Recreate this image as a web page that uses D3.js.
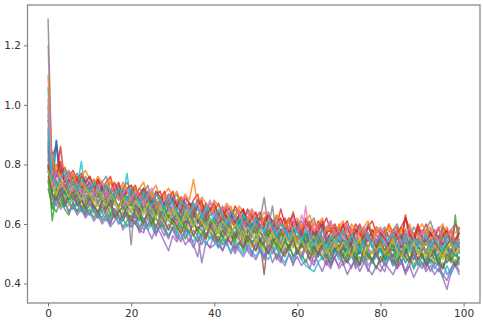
<!DOCTYPE html>
<html lang="en">
<head>
    <meta charset="UTF-8">
    <title>Loss curves</title>
    <script src="https://d3js.org/d3.v7.min.js"></script>
    <style>
        body { margin: 0; padding: 0; background: #ffffff; }
        svg { display: block; }
        .tick text { font-family: "DejaVu Sans", sans-serif; font-size: 10.5px; fill: #333; }
    </style>
</head>
<body>
    <svg width="483" height="327"></svg>
    <script>
        // tab10 colour cycle, one colour per run
        const colors = ["#1f77b4", "#ff7f0e", "#2ca02c", "#d62728", "#9467bd",
                        "#8c564b", "#e377c2", "#7f7f7f", "#bcbd22", "#17becf"];
        const xTicks = [0, 20, 40, 60, 80, 100];
        const yTicks = [0.4, 0.6, 0.8, 1.0, 1.2];

        // one array per run, epoch 0..99
        const run0 = [.92,.79,.88,.77,.74,.75,.72,.76,.73,.71, .72,.74,.70,.71,.73,.69,.70,.68,.71,.69, .67,.70,.69,.66,.68,.67,.65,.68,.66,.67, .64,.66,.67,.63,.65,.62,.66,.64,.61,.63, .64,.61,.60,.63,.62,.59,.61,.63,.58,.60, .61,.58,.59,.57,.60,.58,.56,.59,.57,.58, .55,.58,.56,.57,.54,.58,.55,.56,.53,.57, .55,.53,.56,.57,.54,.52,.55,.56,.53,.55, .54,.56,.52,.55,.57,.53,.54,.51,.56,.54, .53,.55,.52,.54,.56,.51,.53,.55,.52,.54];
        const run1 = [.88,.82,.77,.79,.75,.77,.74,.76,.73,.75, .74,.71,.73,.72,.70,.74,.71,.69,.72,.70, .71,.69,.68,.71,.67,.70,.68,.69,.66,.68, .67,.65,.68,.66,.64,.67,.65,.63,.66,.64, .65,.63,.62,.64,.66,.61,.63,.62,.60,.64, .61,.62,.59,.63,.60,.58,.61,.59,.62,.58, .60,.57,.59,.61,.56,.58,.60,.57,.59,.56, .58,.60,.55,.57,.59,.56,.58,.55,.57,.59, .56,.54,.58,.57,.55,.59,.56,.54,.57,.55, .58,.55,.57,.54,.56,.58,.55,.57,.54,.56];
        const run2 = [.80,.61,.70,.66,.69,.67,.65,.68,.66,.64, .67,.65,.63,.66,.64,.62,.65,.63,.61,.64, .62,.60,.63,.61,.64,.60,.62,.59,.61,.63, .60,.58,.61,.59,.57,.60,.58,.56,.59,.57, .55,.58,.56,.54,.57,.55,.58,.53,.56,.54, .55,.52,.54,.57,.53,.55,.51,.54,.52,.55, .50,.53,.51,.54,.52,.49,.53,.51,.48,.52, .50,.53,.49,.51,.47,.52,.50,.48,.51,.49, .52,.48,.50,.47,.51,.49,.53,.48,.50,.46, .49,.51,.47,.50,.48,.52,.49,.47,.63,.50];
        const run3 = [.95,.83,.86,.77,.79,.76,.78,.75,.77,.74, .76,.73,.75,.72,.74,.76,.71,.73,.70,.72, .71,.73,.69,.72,.70,.68,.71,.69,.67,.70, .68,.66,.69,.67,.65,.68,.70,.64,.67,.65, .64,.67,.63,.65,.62,.66,.64,.61,.65,.63, .62,.64,.60,.63,.61,.59,.65,.60,.62,.59, .61,.58,.62,.60,.57,.61,.59,.62,.58,.60, .57,.59,.61,.56,.60,.58,.55,.59,.61,.57, .58,.56,.60,.57,.59,.55,.62,.58,.56,.59, .57,.60,.56,.58,.55,.59,.57,.54,.60,.58];
        const run4 = [1.0,.70,.68,.72,.66,.69,.67,.64,.68,.65, .63,.66,.64,.62,.65,.61,.63,.60,.64,.62, .59,.61,.63,.58,.60,.62,.57,.59,.56,.60, .58,.55,.59,.57,.54,.58,.56,.53,.57,.55, .56,.52,.55,.53,.57,.51,.54,.52,.55,.50, .53,.51,.49,.54,.50,.52,.48,.51,.53,.49, .51,.48,.52,.50,.47,.51,.49,.46,.50,.48, .46,.50,.48,.45,.49,.47,.51,.46,.48,.45, .49,.46,.48,.50,.45,.47,.44,.48,.46,.49, .47,.45,.48,.46,.44,.47,.43,.45,.48,.46];
        const run5 = [.85,.74,.72,.75,.71,.73,.70,.72,.69,.71, .70,.68,.71,.67,.69,.66,.68,.70,.65,.67, .66,.68,.64,.67,.65,.63,.66,.64,.62,.65, .63,.61,.64,.62,.60,.63,.61,.59,.62,.60, .61,.58,.60,.62,.57,.59,.61,.56,.58,.60, .57,.55,.43,.56,.59,.54,.57,.55,.58,.56, .54,.57,.53,.55,.52,.56,.54,.51,.55,.53, .52,.55,.51,.54,.53,.50,.54,.52,.55,.51, .53,.51,.54,.52,.50,.53,.55,.51,.52,.50, .52,.54,.50,.53,.51,.49,.53,.51,.54,.52];
        const run6 = [1.20,.77,.74,.72,.75,.71,.73,.70,.72,.69, .71,.69,.72,.68,.70,.67,.69,.71,.66,.68, .67,.69,.65,.68,.70,.66,.64,.67,.65,.68, .66,.63,.65,.67,.62,.64,.66,.61,.63,.65, .62,.60,.63,.61,.64,.59,.62,.60,.52,.61, .63,.59,.57,.60,.58,.61,.56,.59,.57,.55, .59,.56,.58,.55,.57,.60,.54,.57,.55,.58, .54,.57,.55,.59,.53,.56,.54,.52,.56,.54, .57,.53,.55,.58,.52,.56,.54,.57,.53,.55, .52,.56,.54,.51,.55,.53,.57,.54,.52,.55];
        const run7 = [1.29,.73,.77,.74,.72,.75,.71,.73,.70,.72, .71,.73,.69,.72,.70,.68,.71,.69,.72,.67, .53,.69,.67,.70,.66,.68,.65,.67,.69,.64, .66,.68,.64,.67,.65,.63,.66,.64,.62,.65, .63,.61,.64,.62,.60,.63,.61,.59,.62,.60, .58,.61,.69,.59,.57,.60,.58,.56,.59,.57, .60,.57,.55,.59,.56,.58,.54,.57,.55,.58, .56,.58,.54,.57,.55,.53,.57,.55,.58,.54, .55,.57,.53,.56,.58,.54,.56,.53,.55,.57, .54,.56,.58,.53,.55,.57,.54,.56,.53,.59];
        const run8 = [.83,.68,.73,.70,.72,.69,.71,.68,.70,.67, .69,.66,.68,.70,.65,.67,.64,.66,.68,.63, .65,.67,.63,.66,.64,.62,.65,.63,.61,.64, .62,.60,.63,.61,.64,.59,.62,.60,.58,.61, .59,.62,.57,.60,.58,.56,.59,.57,.55,.58, .56,.58,.54,.57,.55,.53,.56,.54,.57,.52, .55,.53,.56,.51,.54,.52,.55,.53,.50,.54, .52,.50,.53,.55,.51,.53,.49,.52,.54,.50, .51,.53,.49,.52,.50,.54,.51,.48,.52,.50, .53,.49,.51,.50,.52,.48,.51,.53,.49,.51];
        const run9 = [1.06,.72,.70,.73,.69,.71,.68,.72,.81,.70, .68,.70,.67,.69,.66,.71,.68,.65,.69,.77, .67,.65,.68,.64,.66,.63,.67,.65,.62,.66, .64,.62,.65,.63,.60,.64,.61,.63,.59,.62, .60,.63,.58,.61,.59,.57,.62,.58,.60,.56, .59,.57,.55,.58,.56,.60,.54,.57,.55,.53, .56,.54,.57,.52,.55,.53,.56,.51,.54,.52, .55,.51,.53,.56,.52,.50,.54,.52,.55,.51, .53,.50,.54,.52,.49,.53,.51,.55,.50,.52, .51,.54,.50,.52,.49,.53,.51,.48,.52,.50];
        const run10 = [.78,.70,.88,.69,.71,.68,.70,.67,.69,.66, .68,.65,.67,.64,.66,.68,.63,.65,.62,.66, .64,.62,.65,.61,.63,.60,.64,.62,.59,.63, .61,.59,.62,.60,.57,.61,.58,.60,.56,.59, .57,.60,.55,.58,.56,.54,.59,.55,.57,.53, .56,.54,.57,.52,.55,.53,.51,.55,.52,.54, .51,.54,.52,.50,.53,.49,.52,.54,.50,.52, .49,.52,.50,.53,.48,.51,.49,.52,.47,.50, .52,.48,.51,.49,.53,.47,.50,.52,.48,.51, .49,.47,.51,.48,.50,.52,.47,.49,.51,.48];
        const run11 = [.90,.78,.80,.76,.79,.75,.77,.74,.76,.78, .75,.73,.76,.74,.72,.75,.73,.71,.74,.72, .73,.70,.72,.74,.69,.71,.73,.68,.70,.72, .69,.71,.67,.70,.68,.75,.66,.69,.67,.65, .68,.66,.64,.67,.65,.63,.66,.64,.62,.65, .63,.61,.64,.62,.60,.63,.61,.59,.62,.60, .62,.59,.61,.63,.58,.60,.62,.57,.60,.58, .59,.61,.57,.60,.58,.56,.59,.61,.57,.59, .58,.56,.60,.57,.59,.55,.58,.60,.56,.58, .60,.57,.59,.56,.58,.60,.55,.58,.57,.59];
        const run12 = [.72,.66,.64,.68,.65,.63,.67,.64,.66,.63, .65,.62,.64,.61,.63,.60,.64,.62,.59,.61, .63,.60,.58,.62,.59,.61,.57,.60,.58,.56, .59,.57,.60,.55,.58,.56,.54,.57,.55,.58, .54,.56,.53,.55,.57,.52,.54,.51,.55,.53, .51,.54,.52,.50,.53,.48,.52,.50,.53,.49, .52,.50,.47,.51,.49,.52,.48,.50,.46,.49, .51,.47,.49,.52,.46,.49,.47,.50,.48,.45, .49,.47,.50,.46,.48,.51,.47,.49,.45,.48, .50,.46,.48,.47,.49,.45,.48,.50,.46,.47];
        const run13 = [.87,.79,.76,.86,.74,.77,.73,.75,.72,.74, .76,.72,.74,.71,.73,.70,.72,.74,.69,.71, .70,.72,.68,.71,.69,.67,.70,.68,.71,.66, .68,.66,.69,.65,.67,.64,.68,.66,.63,.65, .66,.63,.65,.62,.64,.60,.63,.65,.61,.63, .60,.62,.59,.63,.61,.58,.60,.62,.57,.61, .59,.57,.60,.58,.56,.59,.61,.57,.58,.55, .58,.56,.59,.55,.57,.60,.56,.54,.58,.56, .55,.58,.56,.54,.57,.59,.62,.56,.55,.58, .56,.54,.57,.55,.59,.53,.56,.58,.54,.57];
        const run14 = [.82,.66,.69,.65,.67,.64,.66,.63,.65,.62, .64,.61,.63,.60,.62,.59,.61,.63,.58,.60, .59,.61,.57,.60,.58,.55,.59,.57,.54,.51, .56,.54,.57,.53,.55,.52,.56,.47,.54,.52, .53,.55,.51,.54,.50,.53,.51,.49,.52,.50, .48,.51,.49,.52,.47,.50,.48,.46,.50,.47, .49,.46,.48,.45,.50,.47,.44,.48,.46,.49, .45,.47,.43,.46,.48,.44,.47,.45,.43,.46, .44,.47,.45,.43,.46,.48,.44,.46,.42,.45, .47,.44,.46,.43,.45,.42,.38,.44,.46,.43];
        const run15 = [.76,.72,.74,.71,.73,.70,.72,.69,.71,.73, .70,.68,.71,.69,.67,.70,.68,.66,.69,.67, .68,.66,.64,.67,.65,.68,.63,.66,.64,.62, .65,.63,.61,.64,.62,.65,.60,.63,.61,.59, .62,.60,.63,.58,.61,.59,.57,.60,.62,.58, .57,.60,.58,.56,.59,.55,.58,.56,.54,.57, .55,.58,.53,.56,.54,.57,.52,.55,.53,.56, .54,.52,.55,.53,.51,.54,.56,.52,.54,.53, .55,.51,.54,.52,.56,.53,.50,.54,.52,.55, .53,.51,.54,.56,.52,.50,.53,.55,.51,.54];
        const run16 = [.93,.75,.71,.73,.70,.72,.69,.71,.68,.70, .67,.69,.66,.68,.70,.65,.67,.64,.66,.68, .64,.66,.63,.65,.62,.64,.66,.61,.63,.65, .62,.60,.63,.61,.59,.62,.58,.61,.59,.57, .60,.58,.61,.57,.59,.56,.58,.60,.55,.57, .59,.55,.57,.54,.56,.58,.53,.55,.57,.52, .54,.56,.66,.55,.53,.51,.54,.56,.52,.54, .51,.53,.55,.50,.53,.51,.54,.52,.50,.53, .52,.55,.50,.53,.51,.54,.49,.52,.54,.50, .53,.51,.49,.53,.55,.50,.52,.49,.53,.51];
        const run17 = [.89,.80,.77,.79,.76,.78,.75,.77,.74,.76, .73,.75,.72,.74,.76,.71,.73,.70,.72,.74, .71,.69,.72,.70,.73,.68,.71,.69,.67,.70, .68,.70,.66,.69,.67,.65,.68,.66,.64,.67, .65,.63,.66,.64,.62,.65,.63,.61,.64,.62, .60,.63,.61,.64,.59,.62,.60,.58,.61,.63, .59,.61,.58,.60,.62,.57,.60,.58,.61,.56, .59,.57,.60,.58,.55,.59,.57,.60,.56,.58, .57,.59,.55,.58,.60,.56,.58,.55,.59,.57, .56,.58,.61,.57,.55,.59,.56,.58,.60,.57];
        const run18 = [.74,.68,.71,.67,.70,.66,.69,.67,.65,.68, .66,.64,.67,.65,.63,.66,.64,.62,.65,.63, .61,.64,.62,.60,.63,.61,.59,.62,.60,.58, .61,.59,.57,.60,.58,.56,.59,.57,.55,.58, .56,.59,.54,.57,.55,.53,.56,.54,.57,.52, .55,.53,.51,.54,.52,.55,.50,.53,.51,.54, .52,.50,.53,.51,.49,.52,.50,.48,.51,.53, .50,.48,.51,.49,.52,.47,.50,.48,.51,.49, .48,.51,.49,.52,.47,.50,.48,.51,.46,.49, .51,.48,.50,.47,.49,.52,.48,.50,.47,.49];
        const run19 = [.97,.70,.67,.69,.66,.68,.65,.67,.64,.66, .63,.65,.62,.64,.61,.63,.65,.60,.62,.59, .61,.63,.59,.62,.58,.60,.57,.61,.59,.56, .59,.57,.55,.58,.56,.54,.57,.55,.53,.56, .54,.52,.55,.53,.51,.54,.52,.50,.53,.51, .49,.52,.50,.48,.51,.53,.49,.47,.50,.48, .51,.48,.46,.45,.44,.47,.49,.50,.48,.51, .48,.50,.47,.49,.51,.46,.48,.50,.47,.49, .51,.47,.49,.46,.48,.50,.47,.49,.45,.48, .46,.49,.47,.45,.48,.42,.46,.43,.47,.49];
        const run20 = [.86,.75,.78,.73,.70,.74,.76,.71,.69,.72, .74,.70,.69,.73,.68,.66,.71,.72,.67,.69, .70,.66,.65,.69,.71,.64,.67,.68,.63,.66, .69,.64,.62,.65,.67,.66,.61,.63,.66,.60, .62,.64,.59,.58,.63,.61,.60,.64,.57,.59, .62,.57,.56,.60,.61,.55,.58,.59,.54,.57, .60,.55,.54,.58,.57,.53,.59,.55,.52,.56, .57,.54,.51,.55,.58,.53,.52,.56,.54,.50, .55,.57,.52,.51,.55,.56,.50,.53,.57,.52, .51,.55,.54,.50,.53,.57,.52,.50,.55,.53];
        const run21 = [1.10,.76,.80,.75,.72,.73,.77,.71,.74,.72, .70,.75,.73,.69,.72,.74,.70,.68,.73,.71, .67,.72,.70,.66,.69,.71,.65,.68,.70,.66, .64,.68,.69,.63,.66,.65,.62,.67,.64,.63, .66,.61,.63,.64,.59,.62,.65,.60,.61,.63, .58,.61,.62,.57,.60,.63,.56,.59,.61,.57, .55,.60,.58,.56,.61,.57,.54,.59,.58,.55, .60,.56,.54,.58,.57,.53,.59,.56,.55,.58, .54,.57,.59,.53,.56,.58,.55,.52,.57,.56, .53,.58,.55,.56,.52,.57,.59,.54,.55,.53];
        const run22 = [.75,.65,.72,.69,.66,.71,.68,.70,.65,.67, .70,.66,.64,.68,.67,.63,.69,.65,.62,.66, .67,.63,.61,.66,.64,.60,.65,.63,.66,.61, .60,.64,.62,.58,.63,.61,.57,.62,.60,.59, .61,.57,.56,.60,.59,.55,.61,.58,.54,.57, .59,.55,.53,.58,.56,.52,.57,.55,.51,.56, .54,.52,.57,.53,.50,.55,.54,.49,.53,.56, .51,.49,.54,.52,.48,.53,.55,.50,.47,.52, .54,.49,.51,.53,.47,.50,.52,.48,.51,.54, .49,.47,.52,.50,.46,.51,.53,.48,.50,.47];
        const run23 = [.79,.74,.76,.81,.72,.75,.73,.71,.76,.74, .72,.70,.75,.73,.69,.71,.74,.70,.68,.72, .73,.68,.70,.72,.67,.65,.70,.71,.66,.68, .71,.66,.64,.69,.67,.63,.66,.68,.62,.65, .67,.63,.61,.66,.64,.60,.63,.65,.59,.62, .64,.59,.61,.63,.58,.60,.62,.57,.59,.64, .58,.56,.61,.59,.55,.58,.60,.54,.57,.59, .56,.60,.55,.53,.58,.57,.54,.59,.56,.52, .57,.55,.53,.58,.56,.52,.63,.57,.54,.60, .55,.53,.57,.54,.51,.56,.58,.53,.55,.57];
        const run24 = [.88,.69,.66,.70,.68,.64,.67,.69,.65,.63, .67,.64,.62,.66,.63,.60,.65,.62,.61,.64, .60,.63,.58,.57,.62,.59,.56,.61,.58,.55, .59,.56,.54,.58,.57,.53,.49,.56,.54,.52, .57,.53,.51,.55,.54,.50,.53,.56,.51,.49, .54,.51,.48,.53,.52,.49,.47,.52,.50,.46, .51,.49,.53,.48,.46,.50,.52,.47,.45,.49, .51,.46,.48,.50,.45,.47,.49,.44,.48,.50, .46,.44,.49,.47,.45,.48,.43,.46,.50,.47, .45,.48,.44,.47,.46,.43,.41,.45,.47,.44];
        const run25 = [.80,.70,.68,.72,.67,.69,.71,.66,.68,.65, .69,.66,.64,.67,.65,.68,.62,.64,.66,.63, .61,.65,.63,.60,.64,.62,.59,.63,.61,.58, .62,.59,.57,.61,.60,.56,.59,.58,.55,.60, .57,.54,.58,.56,.53,.57,.55,.52,.56,.54, .51,.55,.53,.50,.54,.56,.51,.49,.53,.55, .50,.53,.51,.48,.52,.50,.54,.49,.47,.51, .53,.49,.47,.51,.50,.46,.52,.49,.48,.51, .47,.50,.52,.48,.46,.51,.49,.47,.52,.48, .50,.46,.49,.51,.47,.45,.50,.48,.46,.49];
        const run26 = [1.02,.73,.78,.72,.75,.77,.71,.74,.70,.73, .75,.70,.72,.74,.69,.71,.73,.68,.70,.72, .68,.71,.69,.66,.70,.72,.67,.65,.69,.70, .66,.64,.68,.69,.63,.66,.67,.62,.65,.68, .63,.61,.65,.66,.60,.63,.64,.59,.62,.65, .60,.58,.62,.64,.57,.60,.61,.56,.59,.62, .57,.63,.59,.56,.60,.58,.55,.59,.61,.56, .58,.55,.60,.57,.54,.58,.59,.55,.53,.57, .59,.56,.54,.58,.57,.53,.56,.59,.55,.54, .58,.55,.53,.57,.59,.54,.56,.58,.53,.55];
        const run27 = [.84,.72,.75,.70,.73,.71,.69,.74,.72,.68, .71,.73,.67,.70,.72,.66,.69,.71,.65,.68, .70,.64,.67,.69,.63,.66,.68,.62,.65,.67, .63,.61,.66,.64,.60,.65,.63,.59,.64,.61, .58,.63,.61,.57,.62,.60,.56,.61,.59,.55, .60,.58,.54,.59,.66,.56,.53,.58,.57,.54, .59,.55,.53,.57,.56,.52,.58,.55,.51,.56, .57,.53,.52,.56,.55,.51,.54,.57,.52,.50, .55,.53,.51,.56,.54,.50,.57,.52,.51,.55, .53,.50,.55,.52,.51,.56,.53,.50,.54,.52];
        const run28 = [.78,.73,.70,.74,.72,.69,.73,.71,.68,.72, .70,.67,.71,.69,.66,.70,.68,.65,.69,.67, .64,.68,.66,.63,.67,.65,.62,.66,.64,.61, .65,.63,.60,.64,.62,.59,.63,.61,.58,.62, .60,.57,.61,.59,.56,.60,.58,.55,.59,.57, .54,.58,.56,.53,.57,.55,.52,.56,.54,.57, .53,.55,.51,.54,.56,.52,.54,.50,.53,.55, .51,.54,.52,.49,.53,.55,.50,.52,.54,.51, .53,.50,.52,.55,.51,.49,.53,.51,.54,.50, .52,.54,.50,.53,.51,.49,.52,.54,.50,.52];
        const run29 = [.91,.76,.73,.75,.78,.72,.74,.71,.75,.73, .71,.74,.72,.70,.73,.71,.69,.72,.70,.68, .72,.69,.67,.71,.68,.66,.70,.68,.65,.69, .67,.64,.68,.66,.63,.67,.65,.62,.66,.64, .61,.65,.63,.60,.64,.62,.59,.63,.61,.58, .62,.60,.57,.61,.59,.56,.60,.58,.55,.59, .57,.54,.58,.56,.53,.57,.55,.52,.56,.54, .55,.58,.53,.56,.54,.51,.55,.57,.52,.54, .56,.53,.55,.57,.52,.54,.56,.51,.55,.53, .54,.57,.52,.55,.53,.51,.56,.54,.52,.55];

        const runs = [run0, run1, run2, run3, run4, run5, run6, run7, run8, run9,
                      run10, run11, run12, run13, run14, run15, run16, run17, run18, run19,
                      run20, run21, run22, run23, run24, run25, run26, run27, run28, run29];

        const width = 483, height = 327;
        const margin = { top: 5, right: 3, bottom: 24, left: 27.5 };
        const svg = d3.select("svg");

        // matplotlib-style 5% padding around the data
        const nPts = run0.length;
        const xPad = (nPts - 1) * 0.05;
        const yMin = d3.min(runs, r => d3.min(r));
        const yMax = d3.max(runs, r => d3.max(r));
        const yPad = (yMax - yMin) * 0.05;

        const x = d3.scaleLinear()
            .domain([-xPad, nPts - 1 + xPad])
            .range([margin.left, width - margin.right]);
        const y = d3.scaleLinear()
            .domain([yMin - yPad, yMax + yPad])
            .range([height - margin.bottom, margin.top]);

        const line = d3.line()
            .x((d, i) => x(i))
            .y(d => y(d));

        svg.append("g")
            .selectAll("path")
            .data(runs)
            .join("path")
            .attr("d", line)
            .attr("fill", "none")
            .attr("stroke", (d, i) => colors[i % colors.length])
            .attr("stroke-width", 1.5)
            .attr("stroke-opacity", 0.8)
            .attr("stroke-linejoin", "round");

        // frame
        svg.append("rect")
            .attr("x", margin.left)
            .attr("y", margin.top)
            .attr("width", width - margin.right - margin.left)
            .attr("height", height - margin.bottom - margin.top)
            .attr("fill", "none")
            .attr("stroke", "#8a8a8a")
            .attr("stroke-width", 1.3);

        const xAxis = svg.append("g")
            .attr("transform", `translate(0,${height - margin.bottom})`)
            .call(d3.axisBottom(x).tickValues(xTicks).tickFormat(d3.format("d")).tickSize(3.5).tickPadding(3));
        const yAxis = svg.append("g")
            .attr("transform", `translate(${margin.left},0)`)
            .call(d3.axisLeft(y).tickValues(yTicks).tickFormat(d3.format(".1f")).tickSize(3.5).tickPadding(3));

        [xAxis, yAxis].forEach(g => {
            g.select(".domain").remove();
            g.selectAll(".tick line").attr("stroke", "#666").attr("stroke-width", 0.9);
        });
    </script>
</body>
</html>
